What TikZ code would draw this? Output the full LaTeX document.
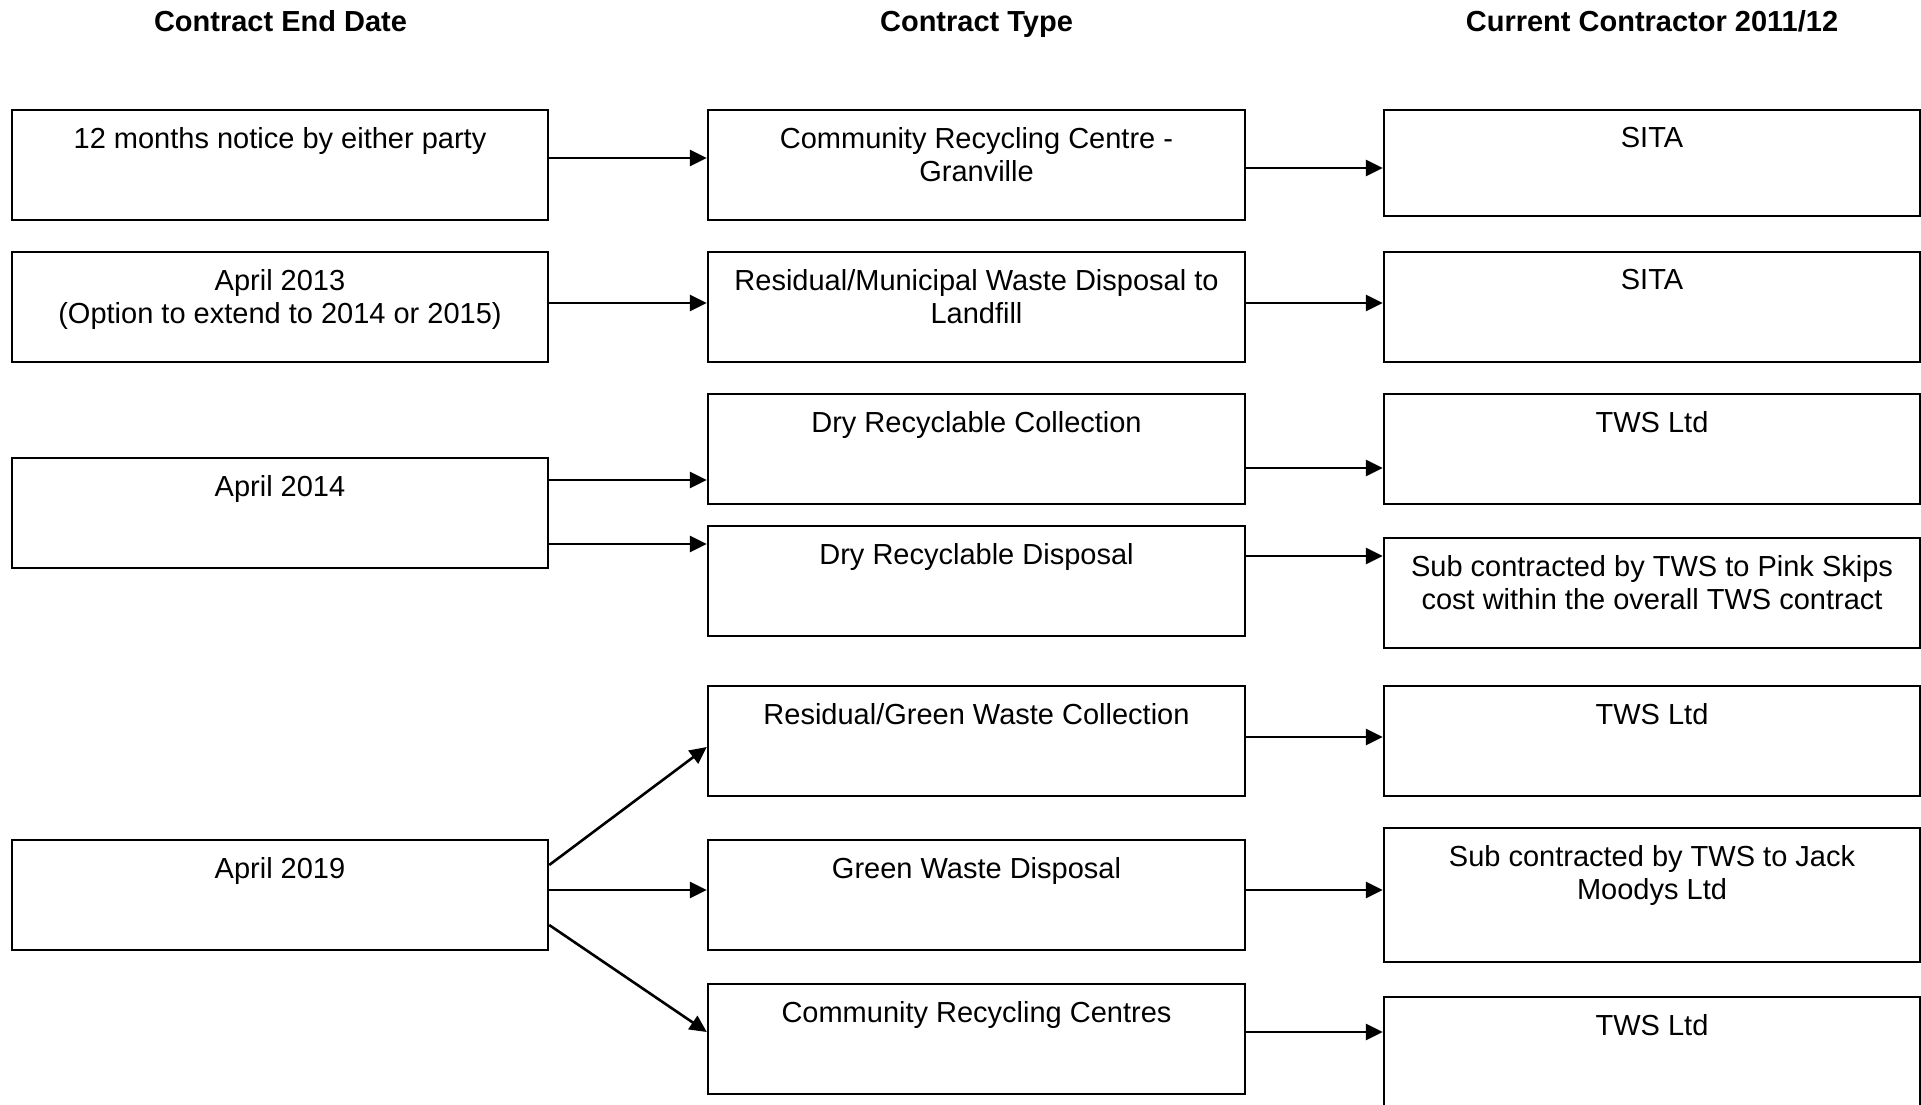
\documentclass[tikz,border=0pt]{standalone}
\usepackage{fontspec}
\setmainfont{Liberation Sans}
\usetikzlibrary{arrows.meta}
\tikzset{
  cbox/.style={draw=black, line width=2.4pt, inner sep=0pt, rectangle},
  ctext/.style={inner sep=0pt, anchor=north, align=center, font=\fontsize{29}{33.4}\selectfont},
  head/.style={inner sep=0pt, anchor=base, font=\fontsize{29}{33.4}\selectfont\bfseries},
  arr/.style={line width=2.6pt, -{Triangle[length=17pt,width=16pt]}}
}
\newcommand\mkbox[6]{%
  \node[cbox, minimum width={#4-#2}, minimum height={#5-#3}] (#1) at ({(#2+#4)/2},{(#3+#5)/2}) {};
  \node[ctext] (#1t) at ({(#2+#4)/2},{#3+17}) {#6};
}
\begin{document}
\begin{tikzpicture}[x=1pt,y=-1pt]
\clip (0,0) rectangle (1921,1104);
\fill[white] (0,0) rectangle (1921,1104);
% headers
\node[head] (h1) at (280.5,31) {Contract End Date};
\node[head] (h2) at (976.5,31) {Contract Type};
\node[head] (h3) at (1652,31) {Current Contractor 2011/12};
% left column
\mkbox{L1}{12}{110}{548}{220}{12 months notice by either party}
\mkbox{L2}{12}{252}{548}{362}{April 2013\\(Option to extend to 2014 or 2015)}
\mkbox{L3}{12}{458}{548}{568}{April 2014}
\mkbox{L4}{12}{840}{548}{950}{April 2019}
% middle column
\mkbox{M1}{708}{110}{1245}{220}{Community Recycling Centre -\\Granville}
\mkbox{M2}{708}{252}{1245}{362}{Residual/Municipal Waste Disposal to\\Landfill}
\mkbox{M3}{708}{394}{1245}{504}{Dry Recyclable Collection}
\mkbox{M4}{708}{526}{1245}{636}{Dry Recyclable Disposal}
\mkbox{M5}{708}{686}{1245}{796}{Residual/Green Waste Collection}
\mkbox{M6}{708}{840}{1245}{950}{Green Waste Disposal}
\mkbox{M7}{708}{984}{1245}{1094}{Community Recycling Centres}
% right column
\mkbox{R1}{1384}{110}{1920}{216}{SITA}
\mkbox{R2}{1384}{252}{1920}{362}{SITA}
\mkbox{R3}{1384}{394}{1920}{504}{TWS Ltd}
\mkbox{R4}{1384}{538}{1920}{648}{Sub contracted by TWS to Pink Skips\\cost within the overall TWS contract}
\mkbox{R5}{1384}{686}{1920}{796}{TWS Ltd}
\mkbox{R6}{1384}{828}{1920}{962}{Sub contracted by TWS to Jack\\Moodys Ltd}
\mkbox{R7}{1384}{997}{1920}{1130}{TWS Ltd}
% arrows left -> middle
\draw[arr] (L1.east |- 0,158) -- (M1.west |- 0,158);
\draw[arr] (L2.east |- 0,303) -- (M2.west |- 0,303);
\draw[arr] (L3.east |- 0,480) -- (M3.west |- 0,480);
\draw[arr] (L3.east |- 0,544) -- (M4.west |- 0,544);
\draw[arr] (L4.east |- 0,865) -- (M5.west |- 0,747);
\draw[arr] (L4.east |- 0,890) -- (M6.west |- 0,890);
\draw[arr] (L4.east |- 0,925) -- (M7.west |- 0,1032);
% arrows middle -> right
\draw[arr] (M1.east |- 0,168) -- (R1.west |- 0,168);
\draw[arr] (M2.east |- 0,303) -- (R2.west |- 0,303);
\draw[arr] (M3.east |- 0,468) -- (R3.west |- 0,468);
\draw[arr] (M4.east |- 0,556) -- (R4.west |- 0,556);
\draw[arr] (M5.east |- 0,737) -- (R5.west |- 0,737);
\draw[arr] (M6.east |- 0,890) -- (R6.west |- 0,890);
\draw[arr] (M7.east |- 0,1032) -- (R7.west |- 0,1032);
\end{tikzpicture}
\end{document}
